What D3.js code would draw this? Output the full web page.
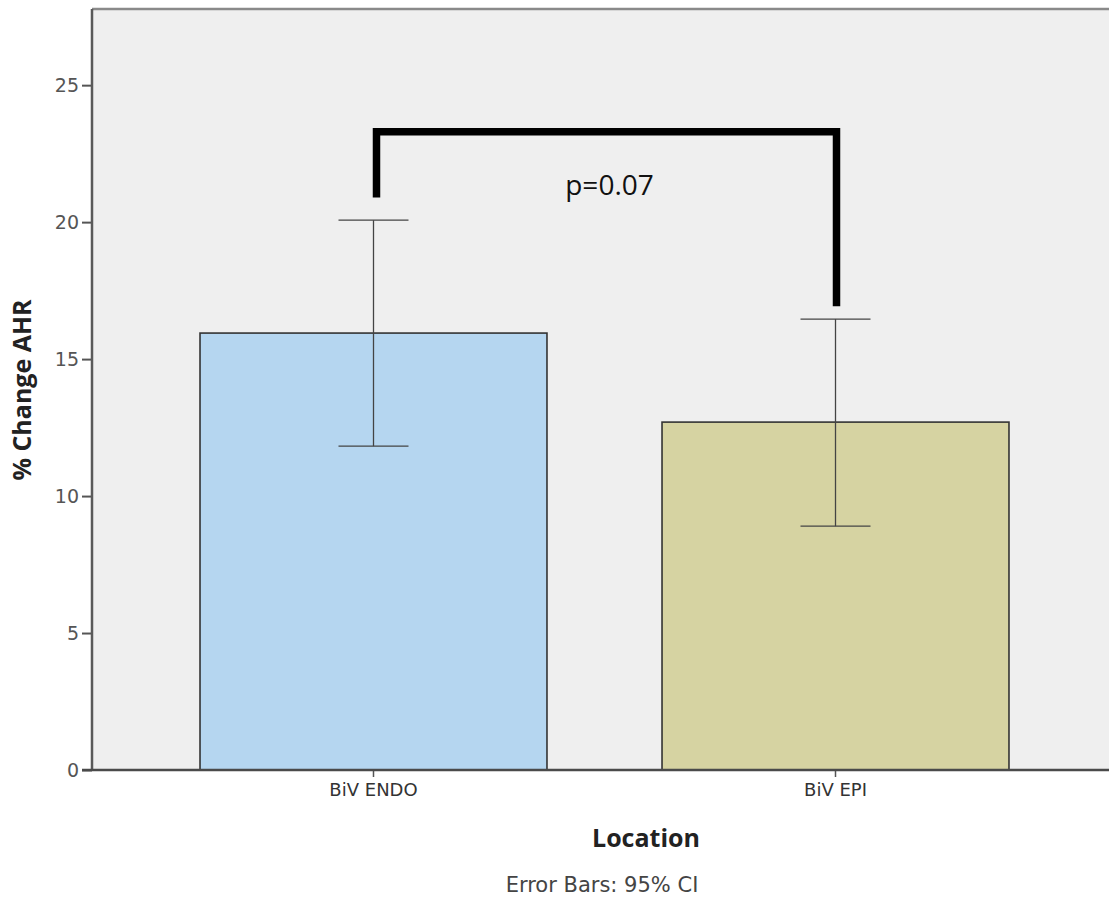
<!DOCTYPE html>
<html>
<head>
<meta charset="utf-8">
<script src="https://cdn.jsdelivr.net/npm/d3@7"></script>
<style>
  html, body { margin: 0; padding: 0; background: #fff; }
  svg { display: block; }
</style>
</head>
<body>
<svg id="chart" width="1109" height="905"></svg>
<script>
// Mean % change in AHR by lead location, with 95% CI
const categories = ["BiV ENDO", "BiV EPI"];
const means = [15.95, 12.7];
const ciLow = [11.82, 8.9];
const ciHigh = [20.07, 16.46];
const barColors = ["#b5d6f0", "#d6d3a2"];
const yTicks = [0, 5, 10, 15, 20, 25];

// Significance bracket between the two groups (in axis units)
const bracketLevels = { left: 20.9, top: 23.3, right: 16.93 };
const pLabel = "p=0.07";

const svg = d3.select("#chart");

const plot = { left: 92, top: 9, right: 1117, bottom: 770 };

const x = d3.scaleBand()
  .domain(categories)
  .range([plot.left, plot.right])
  .paddingInner(0.249)
  .paddingOuter(0.2338);

const y = d3.scaleLinear()
  .domain([0, 27.78])
  .range([plot.bottom, plot.top]);

// plot background
svg.append("rect")
  .attr("x", plot.left)
  .attr("y", plot.top)
  .attr("width", plot.right - plot.left)
  .attr("height", plot.bottom - plot.top)
  .attr("fill", "#efefef");

// bars
svg.append("g")
  .selectAll("rect")
  .data(categories)
  .join("rect")
  .attr("x", d => x(d))
  .attr("y", (d, i) => y(means[i]))
  .attr("width", x.bandwidth())
  .attr("height", (d, i) => y(0) - y(means[i]))
  .attr("fill", (d, i) => barColors[i])
  .attr("stroke", "#333")
  .attr("stroke-width", 1.6);

// error bars
const capHalf = 35;
const eb = svg.append("g")
  .attr("stroke", "#444")
  .attr("stroke-width", 1.3)
  .attr("fill", "none");
categories.forEach((c, i) => {
  const cx = x(c) + x.bandwidth() / 2;
  eb.append("line").attr("x1", cx).attr("x2", cx)
    .attr("y1", y(ciLow[i])).attr("y2", y(ciHigh[i]));
  eb.append("line").attr("x1", cx - capHalf).attr("x2", cx + capHalf)
    .attr("y1", y(ciHigh[i])).attr("y2", y(ciHigh[i]));
  eb.append("line").attr("x1", cx - capHalf).attr("x2", cx + capHalf)
    .attr("y1", y(ciLow[i])).attr("y2", y(ciLow[i]));
});

// frame: top border
svg.append("line")
  .attr("x1", plot.left).attr("x2", plot.right)
  .attr("y1", plot.top).attr("y2", plot.top)
  .attr("stroke", "#8a8a8a")
  .attr("stroke-width", 2.5);

// y axis
const yAxis = svg.append("g")
  .attr("transform", `translate(${plot.left},0)`)
  .call(d3.axisLeft(y).tickValues(yTicks).tickSize(10).tickPadding(3));
yAxis.select(".domain").remove();
yAxis.selectAll(".tick line").attr("stroke", "#555").attr("stroke-width", 2);
yAxis.selectAll(".tick text")
  .attr("fill", "#555")
  .style("font-family", "'DejaVu Sans', sans-serif")
  .style("font-size", "19px");
svg.append("line")
  .attr("x1", plot.left).attr("x2", plot.left)
  .attr("y1", plot.top).attr("y2", plot.bottom)
  .attr("stroke", "#5a5a5a").attr("stroke-width", 2.5);

// x axis
const xAxis = svg.append("g")
  .attr("transform", `translate(0,${plot.bottom})`)
  .call(d3.axisBottom(x).tickSize(7).tickPadding(6).tickSizeOuter(0));
xAxis.select(".domain").remove();
xAxis.selectAll(".tick line").attr("stroke", "#555").attr("stroke-width", 1.5);
xAxis.selectAll(".tick text")
  .attr("fill", "#333")
  .style("font-family", "'DejaVu Sans', sans-serif")
  .style("font-size", "18px");
svg.append("line")
  .attr("x1", plot.left - 10).attr("x2", plot.right)
  .attr("y1", plot.bottom).attr("y2", plot.bottom)
  .attr("stroke", "#4a4a4a").attr("stroke-width", 2.5);

// axis titles
svg.append("text")
  .attr("transform", `translate(31,${(295 + 485) / 2}) rotate(-90)`)
  .attr("text-anchor", "middle")
  .attr("fill", "#222")
  .style("font-family", "'Open Sans', sans-serif")
  .style("font-weight", "bold")
  .style("font-size", "25px")
  .text("% Change AHR");

svg.append("text")
  .attr("x", 646).attr("y", 847)
  .attr("text-anchor", "middle")
  .attr("fill", "#222")
  .style("font-family", "'Open Sans', sans-serif")
  .style("font-weight", "bold")
  .style("font-size", "25px")
  .text("Location");

svg.append("text")
  .attr("x", 602).attr("y", 892)
  .attr("text-anchor", "middle")
  .attr("fill", "#444")
  .style("font-family", "'DejaVu Sans', sans-serif")
  .style("font-size", "21px")
  .text("Error Bars: 95% CI");

// significance bracket
const xL = x(categories[0]) + x.bandwidth() / 2 + 3;
const xR = x(categories[1]) + x.bandwidth() / 2 + 1;
svg.append("path")
  .attr("d", d3.line()([
    [xL, y(bracketLevels.left)],
    [xL, y(bracketLevels.top)],
    [xR, y(bracketLevels.top)],
    [xR, y(bracketLevels.right)]
  ]))
  .attr("fill", "none")
  .attr("stroke", "#000")
  .attr("stroke-width", 7.5)
  .attr("stroke-linejoin", "miter");

svg.append("text")
  .attr("x", (xL + xR) / 2 + 3)
  .attr("y", 195)
  .attr("text-anchor", "middle")
  .attr("fill", "#111")
  .style("font-family", "'Open Sans', sans-serif")
  .style("font-size", "28px")
  .text(pLabel);
</script>
</body>
</html>
